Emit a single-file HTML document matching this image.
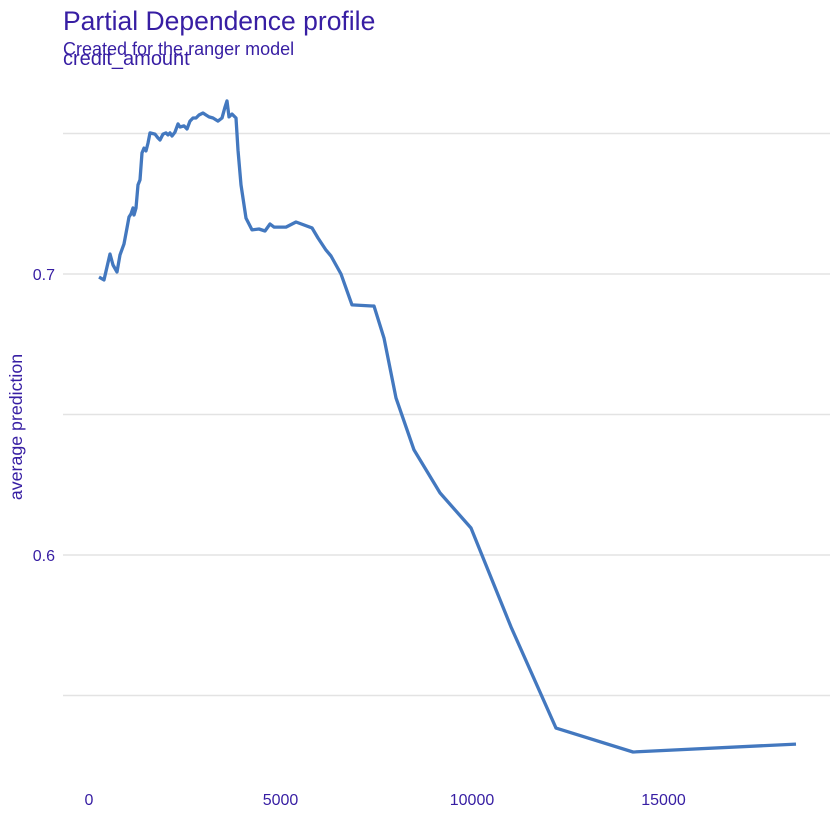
<!DOCTYPE html>
<html><head><meta charset="utf-8"><style>
body{margin:0;background:#fff;}
svg{display:block;font-family:"Liberation Sans",sans-serif;}
</style></head><body>
<svg id="chart" width="840" height="840">
<text x="63" y="30" font-size="26.5" fill="#371ea3">Partial Dependence profile</text>
<text x="63" y="55" font-size="18" fill="#371ea3">Created for the ranger model</text>
<text x="63" y="65" font-size="20" fill="#371ea3">credit_amount</text>
<text transform="translate(22,427) rotate(-90)" text-anchor="middle" font-size="17.8" fill="#371ea3">average prediction</text>
<g id="grid"></g><g id="ticks"></g><g id="series"></g>
</svg>
<script>
const xs=[261,392,548,627,731,809,914,992,1044,1097,1149,1175,1227,1279,1332,1384,1436,1488,1540,1593,1723,1802,1854,1932,2010,2063,2115,2167,2245,2324,2376,2480,2559,2637,2715,2794,2872,2977,3055,3133,3238,3368,3473,3551,3603,3655,3734,3838,3890,3969,4099,4256,4439,4595,4726,4830,5144,5405,5823,5979,6188,6319,6580,6867,7389,7441,7702,8016,8486,9164,9974,11018,12193,14204,18460];
const ys=[.6989,.6979,.7071,.7032,.7007,.7068,.7107,.7164,.7203,.7214,.7235,.7210,.7235,.7317,.7335,.7431,.7448,.7438,.7466,.7502,.7498,.7484,.7477,.7498,.7502,.7495,.7502,.7491,.7505,.7534,.7523,.7527,.7516,.7544,.7555,.7555,.7566,.7573,.7566,.7559,.7555,.7544,.7555,.7594,.7616,.7559,.7569,.7555,.7441,.7317,.7199,.7157,.7160,.7153,.7178,.7167,.7167,.7185,.7164,.7128,.7085,.7064,.7000,.6890,.6886,.6886,.6772,.6559,.6374,.6221,.6096,.5744,.5384,.5299,.5327];
const xTicks=[0,5000,10000,15000];
const xTickLabels=["0","5000","10000","15000"];
const yGrid=[0.55,0.6,0.65,0.7,0.75];
const yTicks=[0.6,0.7];
const yTickLabels=["0.6","0.7"];
const X=v=>89+v*0.03830;
const Y=v=>274-(v-0.7)*2810;
const NS="http://www.w3.org/2000/svg";
const g=document.getElementById('grid'),t=document.getElementById('ticks'),s=document.getElementById('series');
yGrid.forEach(v=>{const l=document.createElementNS(NS,'line');


l.setAttribute('x1',63);l.setAttribute('x2',830);l.setAttribute('y1',Y(v));l.setAttribute('y2',Y(v));
l.setAttribute('stroke','#e3e3e3');l.setAttribute('stroke-width','1.5');g.appendChild(l);});
yTicks.forEach((v,i)=>{const e=document.createElementNS(NS,'text');


e.setAttribute('x',55);e.setAttribute('y',Y(v)+6);e.setAttribute('text-anchor','end');
e.setAttribute('font-size','16');e.setAttribute('fill','#371ea3');e.textContent=yTickLabels[i];t.appendChild(e);});
xTicks.forEach((v,i)=>{const e=document.createElementNS(NS,'text');


e.setAttribute('x',X(v));e.setAttribute('y',805);e.setAttribute('text-anchor','middle');
e.setAttribute('font-size','16');e.setAttribute('fill','#371ea3');e.textContent=xTickLabels[i];t.appendChild(e);});
const p=document.createElementNS(NS,'path');


p.setAttribute('d',xs.map((x,i)=>(i?'L':'M')+X(x).toFixed(1)+','+Y(ys[i]).toFixed(1)).join(''));
p.setAttribute('fill','none');p.setAttribute('stroke','#4378bf');p.setAttribute('stroke-width','3.3');
p.setAttribute('stroke-linejoin','round');s.appendChild(p);
</script>
</body></html>
